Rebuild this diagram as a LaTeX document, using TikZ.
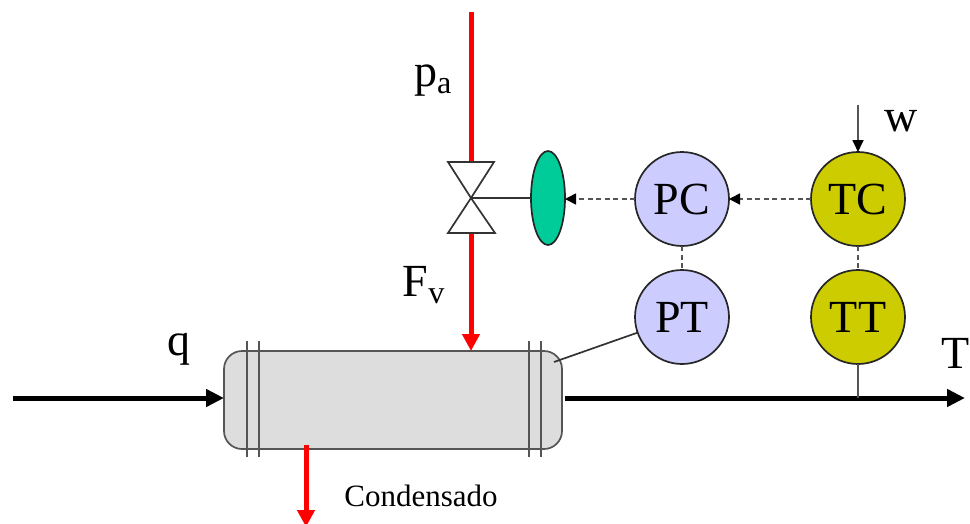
\documentclass[tikz,border=0pt]{standalone}
\usepackage{fontspec}
\setmainfont{Liberation Serif}
\usetikzlibrary{positioning,arrows.meta,calc,shapes.geometric}
\definecolor{ctrlblue}{HTML}{CCCCFF}
\definecolor{ctrlolive}{HTML}{CCCC00}
\definecolor{actgreen}{HTML}{00CC99}
\definecolor{shellgray}{HTML}{DDDDDD}
\definecolor{linegray}{HTML}{555555}
\tikzset{
  inst/.style={draw=black!85,circle,line width=1.7pt,minimum size=94pt,inner sep=0pt,outer sep=0pt,font=\fontsize{46}{46}\selectfont},
  lab/.style={inner sep=0pt,font=\fontsize{46}{46}\selectfont},
  steam/.style={red,line width=5pt},
  steamarr/.style={steam,-{Triangle[length=17pt,width=17pt]}},
  flow/.style={black,line width=5pt,-{Triangle[length=18pt,width=17pt]}},
  sig/.style={linegray,line width=1.7pt,dash pattern=on 5pt off 3.5pt},
  sigarr/.style={sig,-{Triangle[length=11pt,width=11pt,black]}},
  wire/.style={black!80,line width=1.7pt},
  flange/.style={linegray,line width=2pt}
}
\begin{document}
\begin{tikzpicture}[x=1pt,y=-1pt]
\useasboundingbox (0,0) rectangle (970,523);

\node[draw=linegray,line width=1.7pt,fill=shellgray,rounded corners=18pt,minimum width=338pt,minimum height=98pt,outer sep=0pt] (vessel) at (393,400) {};
\node[inst,fill=ctrlblue] (pc) at (682,199) {PC};
\node[inst,fill=ctrlblue,below=24pt of pc] (pt) {PT};
\node[inst,fill=ctrlolive,right=82pt of pc] (tc) {TC};
\node[inst,fill=ctrlolive,below=24pt of tc] (tt) {TT};
\node[draw=black!85,line width=1.7pt,fill=actgreen,ellipse,minimum width=34pt,minimum height=94pt,inner sep=0pt,outer sep=0pt] (act) at (548,198) {};

% valve body
\coordinate (valve) at (471,198);
\coordinate (vtop) at (471,162);
\coordinate (vbot) at (471,233);
\draw[steam] (471,12) -- (vtop);
\draw[steamarr] (vbot) -- (vbot |- vessel.north);
\draw[wire,line join=miter] (valve) -- ++(-23,-36) -- ++(46,0) -- (valve) -- ++(24,35) -- ++(-47,0) -- cycle;
\draw[wire] (valve) -- (act.west);

% main line
\coordinate (qin) at (13,398);
\coordinate (tout) at (965,398);
\draw[flow] (qin) -- (qin -| vessel.west);
\draw[flow] (565,398) -- (tout);

% flanges
\foreach \xf in {247,259,529,541}
  \draw[flange] (\xf,341) -- (\xf,457);

\coordinate (cond) at (306,527);
\draw[steamarr] (306,445) -- (cond);

% signals
\draw[sigarr] (tc) -- (pc);
\draw[sigarr] (pc) -- (pc -| act.east);
\draw[sig] (pc) -- (pt);
\draw[sig] (tc) -- (tt);
\coordinate (wset) at (858,105);
\draw[linegray,line width=1.7pt,-{Triangle[length=12pt,width=11pt,black]}] (wset) -- (tc);
\coordinate (ptap) at (554,362);
\draw[wire] (pt) -- (ptap);
\draw[linegray,line width=1.7pt] (tt) -- (tt |- tout);

\node[lab] (lpa) at (433,81) {p\textsubscript{a}};
\node[lab] (lfv) at (424,285) {F\textsubscript{v}};
\node[lab] (lq) at (179,349) {q};
\node[lab] (lw) at (901,121) {w};
\node[lab] (lt) at (955.5,353) {T};
\node[inner sep=0pt,font=\fontsize{31}{31}\selectfont] (lcond) at (421,496) {Condensado};
\end{tikzpicture}
\end{document}
